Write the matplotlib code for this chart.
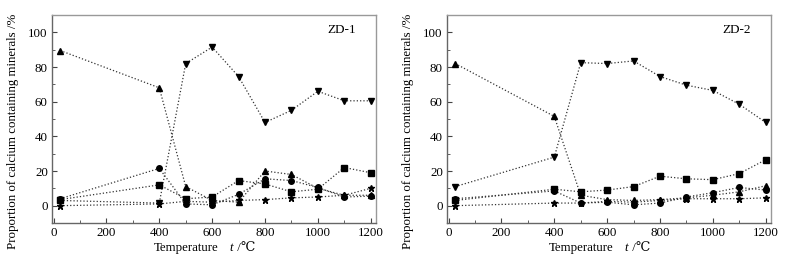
import matplotlib.pyplot as plt
from matplotlib.ticker import MultipleLocator

plt.rcParams['font.family'] = ['Liberation Serif', 'DejaVu Serif', 'Noto Sans CJK SC']

temps = [25, 400, 500, 600, 700, 800, 900, 1000, 1100, 1200]

# ZD-1
zd1_up = [89.5, 68, 11, 3, 2, 20, 18, 10, 6, 6]
zd1_down = [3, 1.5, 82, 91.5, 74.5, 48, 55, 66, 60.5, 60.5]
zd1_circle = [4, 21.5, 1, 0.5, 6.5, 15.5, 14.5, 10.5, 5, 5.5]
zd1_square = [3.5, 12, 4, 5, 14.5, 12.5, 8, 9.5, 22, 19]
zd1_star = [0, 1, 2.5, 2, 3, 3.5, 4.5, 5, 6, 10]

# ZD-2
zd2_up = [82, 51.5, 6, 3.5, 3, 3.5, 4.5, 6, 8, 11.5]
zd2_down = [11, 28, 82.5, 82, 83.5, 74.5, 69.5, 66.5, 58.5, 48]
zd2_circle = [4, 8.5, 1.5, 2, 0.5, 1.5, 5, 7.5, 10.5, 9]
zd2_square = [3, 9.5, 8, 9, 11, 17, 15.5, 15, 18.5, 26.5]
zd2_star = [0, 1.5, 1.5, 2.5, 2, 3, 4, 4, 4, 4.5]

panels = [
    ("ZD-1", [zd1_up, zd1_down, zd1_circle, zd1_square, zd1_star]),
    ("ZD-2", [zd2_up, zd2_down, zd2_circle, zd2_square, zd2_star]),
]
markers = ['^', 'v', 'o', 's', '*']
msizes = [4.5, 4.5, 4, 4, 5]

W, H = 790, 264
fig = plt.figure(figsize=(7.9, 2.64), dpi=100)
lefts = [52, 447]
for (name, series), left in zip(panels, lefts):
    ax = fig.add_axes([left / W, (H - 223) / H, 324 / W, 208 / H])
    for vals, m, ms in zip(series, markers, msizes):
        ax.plot(temps, vals, linestyle=':', color='#333333', linewidth=0.9,
                marker=m, markersize=ms, markerfacecolor='black',
                markeredgecolor='black')
    ax.set_xlim(-6, 1220)
    ax.set_ylim(-10, 110)
    ax.xaxis.set_major_locator(MultipleLocator(200))
    ax.xaxis.set_minor_locator(MultipleLocator(100))
    ax.yaxis.set_major_locator(MultipleLocator(20))
    ax.yaxis.set_minor_locator(MultipleLocator(10))
    ax.tick_params(which='both', direction='in', top=False, right=False,
                   color='#444444', labelsize=9.3, pad=3)
    ax.tick_params(which='major', length=3.5)
    ax.tick_params(which='minor', length=2)
    for s in ax.spines.values():
        s.set_color('#999999')
        s.set_linewidth(1.0)
    ax.spines['left'].set_color('#666666')
    ax.spines['bottom'].set_color('#666666')
    ax.text(1035, 101.5, name, fontsize=9.5, va='center', ha='left')
    ax.set_ylabel('Proportion of calcium containing minerals /%', fontsize=9.3)
    ax.yaxis.set_label_coords(-33 / 324, 0.44)
    # x label built from pieces so "t" is italic
    fig.text((left + 102) / W, (H - 248) / H, 'Temperature', fontsize=9.3,
             va='center', ha='left')
    fig.text((left + 177) / W, (H - 248) / H, 't', fontsize=9.3,
             style='italic', va='center', ha='left')
    fig.text((left + 182) / W, (H - 248) / H, ' /\u2103', fontsize=9.3,
             va='center', ha='left')

fig.savefig('out.png', dpi=100)
